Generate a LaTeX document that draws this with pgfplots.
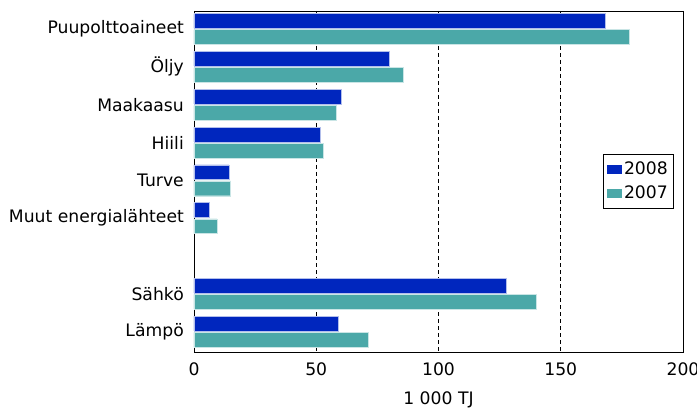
\documentclass[border=0pt]{standalone}
\usepackage{fontspec}
\setmainfont{DejaVu Sans}
\usepackage{pgfplots}
\pgfplotsset{compat=1.18}
\usetikzlibrary{calc}

\definecolor{c2008}{RGB}{0,38,190}
\definecolor{c2007}{RGB}{75,168,168}
\newcommand{\chartfont}{\fontsize{17.2bp}{20bp}\selectfont}

\begin{document}
\begin{tikzpicture}
\chartfont
\begin{axis}[
    scale only axis,
    width=489bp, height=341bp,
    xbar,
    xmin=0, xmax=200,
    ymin=-0.476, ymax=8.54,
    y dir=reverse,
    xtick={0,50,100,150,200},
    ytick={0,1,2,3,4,5,7,8},
    yticklabels={Puupolttoaineet,Öljy,Maakaasu,Hiili,Turve,Muut energialähteet,Sähkö,Lämpö},
    major tick length=0pt,
    xmajorgrids,
    major grid style={black, line width=0.7bp, dash pattern=on 4bp off 3bp},
    axis line style={black, line width=0.9bp},
    /pgf/number format/assume math mode=true,
    ticklabel style={font=\chartfont, inner sep=0pt},
    xticklabel style={yshift=-11bp},
    yticklabel style={xshift=-10bp, anchor=east},
    xlabel={1 000 TJ},
    xlabel style={at={(rel axis cs:0.5,0)}, anchor=north, inner sep=0pt, yshift=-40bp, font=\chartfont},
    bar width=0.39,
    legend style={at={(rel axis cs:0.982,0.5)}, anchor=east, draw=black, line width=0.8bp,
        font=\chartfont, row sep=5bp, inner xsep=4bp, inner ysep=5bp},
    legend image code/.code={\draw[#1, draw=none] (0cm,-4.5bp) rectangle (15bp,4.5bp);},
    legend cell align=left,
]
\addplot[fill=c2008, draw=white!70!c2008, line width=0.4bp, bar shift=-0.213] coordinates {
    (168,0) (79.8,1) (60.1,2) (51.6,3) (14.3,4) (6.4,5) (127.6,7) (58.8,8)
};
\addplot[fill=c2007, draw=white!70!c2007, line width=0.4bp, bar shift=0.213] coordinates {
    (178,0) (85.6,1) (58.2,2) (52.9,3) (14.9,4) (9.5,5) (140,7) (71.3,8)
};
\legend{2008,2007}
\coordinate (sw) at (rel axis cs:0,0);
\coordinate (ne) at (rel axis cs:1,1);
\end{axis}
\pgfresetboundingbox
\path ($(sw)+(-194bp,-57bp)$) rectangle ($(ne)+(14bp,11bp)$);
\end{tikzpicture}
\end{document}
